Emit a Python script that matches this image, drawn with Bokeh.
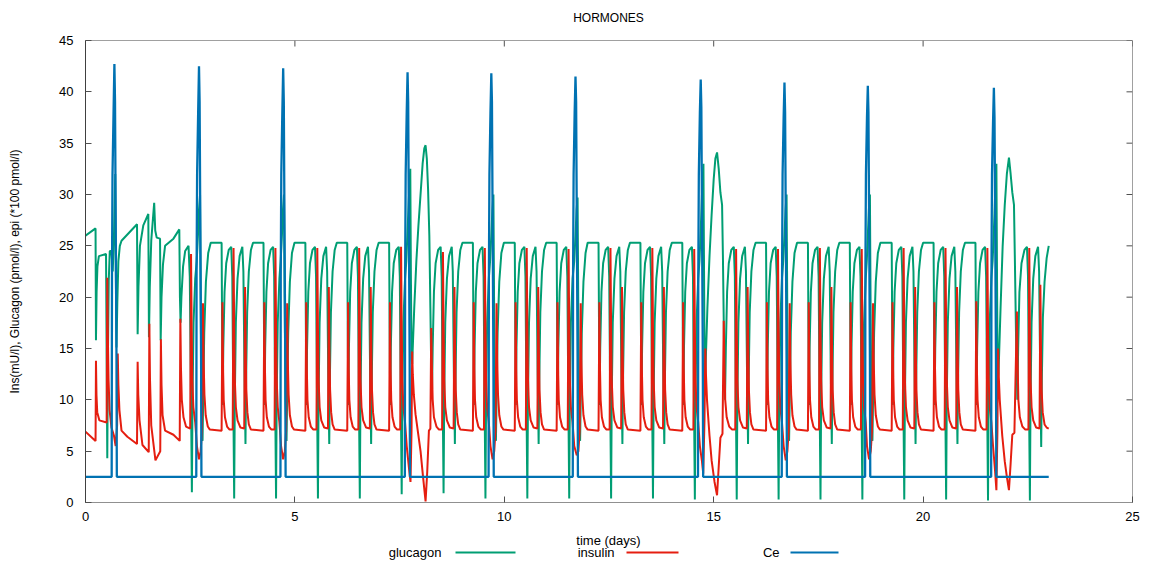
from bokeh.plotting import figure
from bokeh.models import Range1d, FixedTicker
from bokeh.layouts import column
from bokeh.core.properties import value
from bokeh.embed import file_html
from bokeh.resources import INLINE

FONT = "Liberation Sans"
title_text = "HORMONES"
x_label = "time (days)"
y_label = "Ins(mU/l), Glucagon (pmol/l), epi (*100 pmol/l)"
x_ticks = [0, 5, 10, 15, 20, 25]
y_ticks = [0, 5, 10, 15, 20, 25, 30, 35, 40, 45]
series_names = ["glucagon", "insulin", "Ce"]
series_colors = ["#009e73", "#e51e10", "#0072b2"]

# (time in days, value)
glucagon_pts = [
    (0.00, 26.0), (0.24, 26.7), (0.25, 15.8), (0.265, 20.5), (0.285, 23.0), (0.32, 24.0), (0.49, 24.2), (0.505, 14.0),
    (0.52, 4.3), (0.535, 14.0), (0.555, 21.6), (0.58, 24.5), (0.62, 24.5), (0.65, 22.5), (0.68, 26.0), (0.71, 32.0),
    (0.725, 22.0), (0.74, 15.1), (0.76, 19.5), (0.785, 23.5), (0.82, 25.0), (0.86, 25.5),
    (1.23, 27.1), (1.245, 16.4), (1.265, 21.0), (1.30, 25.0), (1.38, 27.0), (1.50, 28.1), (1.515, 16.1), (1.535, 21.0),
    (1.57, 25.5), (1.64, 29.2), (1.665, 26.5), (1.70, 25.8), (1.78, 25.7), (1.795, 15.8), (1.815, 20.0), (1.85, 23.2),
    (1.90, 25.0), (2.10, 25.7),
    (2.24, 26.6), (2.255, 20.0), (2.27, 17.5), (2.29, 20.0), (2.33, 23.0), (2.38, 24.5), (2.46, 25.0), (2.49, 22.0),
    (2.515, 12.0), (2.54, 1.0), (2.555, 10.0), (2.58, 17.5), (2.62, 21.8), (2.655, 23.5), (2.685, 26.0), (2.71, 28.5),
    (2.735, 30.0), (2.75, 20.0), (2.77, 10.0), (2.795, 6.0), (2.81, 10.0), (2.835, 16.5), (2.875, 21.5), (2.93, 24.3),
    (2.99, 25.3),
    (3.25, 25.3), (3.262, 17.0), (3.275, 9.5), (3.29, 15.0), (3.32, 20.5), (3.36, 23.3), (3.42, 24.6), (3.48, 24.9),
    (3.505, 22.0), (3.525, 12.0), (3.55, 0.4), (3.565, 10.0), (3.59, 17.5), (3.63, 21.8), (3.68, 24.0), (3.745, 24.9),
    (3.77, 22.5), (3.795, 13.0), (3.82, 5.7), (3.835, 12.0), (3.86, 18.5), (3.90, 22.5), (3.95, 24.6), (4.00, 25.3),
    (4.25, 25.3), (4.262, 17.0), (4.275, 9.5), (4.29, 15.0), (4.32, 20.5), (4.36, 23.3), (4.42, 24.6), (4.48, 24.9),
    (4.505, 22.0), (4.525, 12.0), (4.55, 0.4), (4.565, 10.0), (4.59, 17.5), (4.63, 21.8), (4.66, 23.5), (4.69, 26.0),
    (4.715, 28.5), (4.74, 30.0), (4.755, 20.0), (4.775, 10.0), (4.80, 6.0), (4.815, 10.0), (4.84, 16.5), (4.88, 21.5),
    (4.93, 24.3), (4.99, 25.3),
    (5.25, 25.3), (5.262, 17.0), (5.275, 9.5), (5.29, 15.0), (5.32, 20.5), (5.36, 23.3), (5.42, 24.6), (5.48, 24.9),
    (5.505, 22.0), (5.525, 12.0), (5.55, 0.4), (5.565, 10.0), (5.59, 17.5), (5.63, 21.8), (5.68, 24.0), (5.745, 24.9),
    (5.77, 22.5), (5.795, 13.0), (5.82, 5.7), (5.835, 12.0), (5.86, 18.5), (5.90, 22.5), (5.95, 24.6), (6.00, 25.3),
    (6.25, 25.3), (6.262, 17.0), (6.275, 9.5), (6.29, 15.0), (6.32, 20.5), (6.36, 23.3), (6.42, 24.6), (6.48, 24.9),
    (6.505, 22.0), (6.525, 12.0), (6.55, 0.4), (6.565, 10.0), (6.59, 17.5), (6.63, 21.8), (6.68, 24.0), (6.745, 24.9),
    (6.77, 22.5), (6.795, 13.0), (6.82, 5.7), (6.835, 12.0), (6.86, 18.5), (6.90, 22.5), (6.95, 24.6), (7.00, 25.3),
    (7.25, 25.3), (7.262, 17.0), (7.275, 9.5), (7.29, 15.0), (7.32, 20.5), (7.36, 23.3), (7.42, 24.6), (7.48, 24.9),
    (7.505, 22.0), (7.525, 12.0), (7.55, 0.8), (7.565, 10.0), (7.59, 17.5), (7.63, 21.8), (7.66, 23.5), (7.69, 26.5),
    (7.72, 29.5), (7.755, 32.5), (7.77, 22.0), (7.785, 14.0), (7.80, 13.5), (7.85, 19.0), (7.90, 23.5), (7.95, 27.0),
    (8.00, 30.0), (8.05, 33.0), (8.09, 34.5), (8.12, 34.8), (8.15, 33.5), (8.18, 30.5), (8.21, 26.0), (8.235, 19.0),
    (8.255, 13.0), (8.275, 11.0), (8.29, 15.0), (8.32, 20.5), (8.36, 23.3), (8.42, 24.6), (8.48, 24.9), (8.505, 22.0),
    (8.525, 12.0), (8.55, 0.9), (8.565, 10.0), (8.59, 17.5), (8.63, 21.8), (8.68, 24.0), (8.745, 24.9), (8.77, 22.5),
    (8.795, 13.0), (8.82, 5.7), (8.835, 12.0), (8.86, 18.5), (8.90, 22.5), (8.95, 24.6), (9.00, 25.3),
    (9.25, 25.3), (9.262, 17.0), (9.275, 9.5), (9.29, 15.0), (9.32, 20.5), (9.36, 23.3), (9.42, 24.6), (9.48, 24.9),
    (9.505, 22.0), (9.525, 12.0), (9.55, 0.4), (9.565, 10.0), (9.59, 17.5), (9.63, 21.8), (9.66, 23.5), (9.69, 26.0),
    (9.715, 28.5), (9.74, 30.0), (9.755, 20.0), (9.775, 10.0), (9.80, 6.0), (9.815, 10.0), (9.84, 16.5), (9.88, 21.5),
    (9.93, 24.3), (9.99, 25.3),
    (10.25, 25.3), (10.262, 17.0), (10.275, 9.5), (10.29, 15.0), (10.32, 20.5), (10.36, 23.3), (10.42, 24.6),
    (10.48, 24.9), (10.505, 22.0), (10.525, 12.0), (10.55, 0.4), (10.565, 10.0), (10.59, 17.5), (10.63, 21.8),
    (10.68, 24.0), (10.745, 24.9), (10.77, 22.5), (10.795, 13.0), (10.82, 5.7), (10.835, 12.0), (10.86, 18.5),
    (10.90, 22.5), (10.95, 24.6), (11.00, 25.3),
    (11.25, 25.3), (11.262, 17.0), (11.275, 9.5), (11.29, 15.0), (11.32, 20.5), (11.36, 23.3), (11.42, 24.6),
    (11.48, 24.9), (11.505, 22.0), (11.525, 12.0), (11.55, 0.4), (11.565, 10.0), (11.59, 17.5), (11.63, 21.8),
    (11.67, 23.5), (11.70, 26.0), (11.725, 28.5), (11.75, 29.7), (11.765, 20.0), (11.785, 10.0), (11.81, 6.0),
    (11.825, 10.0), (11.85, 16.5), (11.89, 21.5), (11.94, 24.3), (11.99, 25.3),
    (12.25, 25.3), (12.262, 17.0), (12.275, 9.5), (12.29, 15.0), (12.32, 20.5), (12.36, 23.3), (12.42, 24.6),
    (12.48, 24.9), (12.505, 22.0), (12.525, 12.0), (12.55, 0.4), (12.565, 10.0), (12.59, 17.5), (12.63, 21.8),
    (12.68, 24.0), (12.745, 24.9), (12.77, 22.5), (12.795, 13.0), (12.82, 5.7), (12.835, 12.0), (12.86, 18.5),
    (12.90, 22.5), (12.95, 24.6), (13.00, 25.3),
    (13.25, 25.3), (13.262, 17.0), (13.275, 9.5), (13.29, 15.0), (13.32, 20.5), (13.36, 23.3), (13.42, 24.6),
    (13.48, 24.9), (13.505, 22.0), (13.525, 12.0), (13.55, 0.4), (13.565, 10.0), (13.59, 17.5), (13.63, 21.8),
    (13.68, 24.0), (13.745, 24.9), (13.77, 22.5), (13.795, 13.0), (13.82, 5.7), (13.835, 12.0), (13.86, 18.5),
    (13.90, 22.5), (13.95, 24.6), (14.00, 25.3),
    (14.25, 25.3), (14.262, 17.0), (14.275, 9.5), (14.29, 15.0), (14.32, 20.5), (14.36, 23.3), (14.42, 24.6),
    (14.48, 24.9), (14.505, 22.0), (14.525, 12.0), (14.55, 0.3), (14.565, 10.0), (14.59, 17.5), (14.63, 21.8),
    (14.66, 23.5), (14.69, 26.5), (14.72, 30.0), (14.755, 33.0), (14.77, 22.0), (14.785, 12.0), (14.80, 12.5),
    (14.85, 19.0), (14.90, 24.0), (14.95, 28.0), (15.00, 31.5), (15.04, 33.5), (15.08, 34.1), (15.12, 32.5),
    (15.16, 30.2), (15.20, 29.0), (15.22, 24.0), (15.245, 16.0), (15.27, 10.0), (15.29, 15.0), (15.32, 20.5),
    (15.36, 23.3), (15.42, 24.6), (15.48, 24.9), (15.505, 22.0), (15.525, 12.0), (15.55, 0.3), (15.565, 10.0),
    (15.59, 17.5), (15.63, 21.8), (15.68, 24.0), (15.745, 24.9), (15.77, 22.5), (15.795, 13.0), (15.82, 5.7),
    (15.835, 12.0), (15.86, 18.5), (15.90, 22.5), (15.95, 24.6), (16.00, 25.3),
    (16.25, 25.3), (16.262, 17.0), (16.275, 9.5), (16.29, 15.0), (16.32, 20.5), (16.36, 23.3), (16.42, 24.6),
    (16.48, 24.9), (16.505, 22.0), (16.525, 12.0), (16.55, 0.3), (16.565, 10.0), (16.59, 17.5), (16.63, 21.8),
    (16.66, 23.5), (16.69, 26.0), (16.715, 28.5), (16.74, 30.0), (16.755, 20.0), (16.775, 10.0), (16.80, 6.0),
    (16.815, 10.0), (16.84, 16.5), (16.88, 21.5), (16.93, 24.3), (16.99, 25.3),
    (17.25, 25.3), (17.262, 17.0), (17.275, 9.5), (17.29, 15.0), (17.32, 20.5), (17.36, 23.3), (17.42, 24.6),
    (17.48, 24.9), (17.505, 22.0), (17.525, 12.0), (17.55, 0.3), (17.565, 10.0), (17.59, 17.5), (17.63, 21.8),
    (17.68, 24.0), (17.745, 24.9), (17.77, 22.5), (17.795, 13.0), (17.82, 5.7), (17.835, 12.0), (17.86, 18.5),
    (17.90, 22.5), (17.95, 24.6), (18.00, 25.3),
    (18.25, 25.3), (18.262, 17.0), (18.275, 9.5), (18.29, 15.0), (18.32, 20.5), (18.36, 23.3), (18.42, 24.6),
    (18.48, 24.9), (18.505, 22.0), (18.525, 12.0), (18.55, 0.3), (18.565, 10.0), (18.59, 17.5), (18.63, 21.8),
    (18.655, 23.5), (18.68, 26.0), (18.705, 28.5), (18.73, 30.0), (18.745, 20.0), (18.765, 10.0), (18.79, 6.0),
    (18.805, 10.0), (18.83, 16.5), (18.87, 21.5), (18.92, 24.3), (18.98, 25.3),
    (19.25, 25.3), (19.262, 17.0), (19.275, 9.5), (19.29, 15.0), (19.32, 20.5), (19.36, 23.3), (19.42, 24.6),
    (19.48, 24.9), (19.505, 22.0), (19.525, 12.0), (19.55, 0.3), (19.565, 10.0), (19.59, 17.5), (19.63, 21.8),
    (19.68, 24.0), (19.745, 24.9), (19.77, 22.5), (19.795, 13.0), (19.82, 5.7), (19.835, 12.0), (19.86, 18.5),
    (19.90, 22.5), (19.95, 24.6), (20.00, 25.3),
    (20.25, 25.3), (20.262, 17.0), (20.275, 9.5), (20.29, 15.0), (20.32, 20.5), (20.36, 23.3), (20.42, 24.6),
    (20.48, 24.9), (20.505, 22.0), (20.525, 12.0), (20.55, 0.3), (20.565, 10.0), (20.59, 17.5), (20.63, 21.8),
    (20.68, 24.0), (20.745, 24.9), (20.77, 22.5), (20.795, 13.0), (20.82, 5.7), (20.835, 12.0), (20.86, 18.5),
    (20.90, 22.5), (20.95, 24.6), (21.00, 25.3),
    (21.25, 25.3), (21.262, 17.0), (21.275, 9.5), (21.29, 15.0), (21.32, 20.5), (21.36, 23.3), (21.42, 24.6),
    (21.48, 24.9), (21.505, 22.0), (21.525, 12.0), (21.55, 0.2), (21.565, 10.0), (21.59, 17.5), (21.63, 21.8),
    (21.66, 23.5), (21.69, 26.5), (21.72, 30.0), (21.75, 33.0), (21.765, 22.0), (21.78, 12.0), (21.80, 12.5),
    (21.85, 19.0), (21.90, 25.0), (21.95, 29.0), (22.00, 32.0), (22.05, 33.6), (22.09, 32.0), (22.13, 30.2),
    (22.17, 29.0), (22.19, 24.0), (22.22, 16.0), (22.25, 10.0), (22.27, 15.0), (22.30, 20.5), (22.35, 23.3),
    (22.42, 24.6), (22.48, 24.9), (22.505, 22.0), (22.525, 12.0), (22.55, 0.2), (22.565, 10.0), (22.59, 17.5),
    (22.63, 21.8), (22.68, 24.0), (22.745, 24.9), (22.77, 22.5), (22.795, 13.0), (22.82, 5.4), (22.835, 12.0),
    (22.86, 18.0), (22.90, 21.5), (22.95, 23.8), (23.00, 25.0),
]

insulin_pts = [
    (0.00, 6.9), (0.24, 6.0), (0.25, 13.8), (0.262, 10.5), (0.28, 8.8), (0.33, 8.0), (0.505, 7.8), (0.52, 21.9),
    (0.535, 16.0), (0.55, 12.0), (0.575, 9.0), (0.62, 7.3), (0.68, 6.5), (0.72, 5.5), (0.755, 7.5), (0.77, 14.5),
    (0.785, 11.5), (0.81, 9.0), (0.86, 7.0), (1.00, 6.4),
    (1.23, 5.7), (1.245, 13.7), (1.26, 10.5), (1.29, 8.0), (1.36, 5.6), (1.51, 4.9), (1.525, 17.4), (1.54, 12.0),
    (1.57, 7.5), (1.67, 4.1), (1.785, 5.0), (1.80, 15.9), (1.815, 11.5), (1.84, 8.5), (1.90, 7.0), (2.10, 6.6),
    (2.25, 6.0), (2.265, 17.9), (2.28, 13.0), (2.30, 10.0), (2.34, 8.3), (2.40, 7.4), (2.50, 7.2), (2.52, 24.2),
    (2.535, 17.0), (2.55, 12.0), (2.575, 9.3), (2.62, 7.8), (2.66, 5.5), (2.71, 4.2), (2.75, 5.0), (2.78, 7.0),
    (2.805, 19.4), (2.82, 14.0), (2.84, 10.5), (2.87, 8.5), (2.92, 7.4), (2.97, 7.1),
    (3.25, 7.0), (3.27, 19.5), (3.285, 13.0), (3.30, 10.0), (3.33, 8.3), (3.38, 7.4), (3.44, 7.1), (3.515, 7.1),
    (3.535, 24.8), (3.55, 17.0), (3.565, 12.0), (3.59, 9.3), (3.63, 8.0), (3.70, 7.3), (3.79, 7.2), (3.81, 21.0),
    (3.825, 15.0), (3.84, 11.0), (3.865, 8.8), (3.90, 7.6), (3.95, 7.1),
    (4.25, 7.0), (4.27, 19.5), (4.285, 13.0), (4.30, 10.0), (4.33, 8.3), (4.38, 7.4), (4.44, 7.1), (4.515, 7.1),
    (4.535, 24.8), (4.55, 17.0), (4.565, 12.0), (4.59, 9.3), (4.63, 7.8), (4.67, 5.5), (4.72, 4.2), (4.76, 5.0),
    (4.79, 7.0), (4.815, 19.4), (4.83, 14.0), (4.85, 10.5), (4.88, 8.5), (4.93, 7.4), (4.98, 7.1),
    (5.25, 7.0), (5.27, 19.5), (5.285, 13.0), (5.30, 10.0), (5.33, 8.3), (5.38, 7.4), (5.44, 7.1), (5.515, 7.1),
    (5.535, 24.8), (5.55, 17.0), (5.565, 12.0), (5.59, 9.3), (5.63, 8.0), (5.70, 7.3), (5.79, 7.2), (5.81, 21.0),
    (5.825, 15.0), (5.84, 11.0), (5.865, 8.8), (5.90, 7.6), (5.95, 7.1),
    (6.25, 7.0), (6.27, 19.5), (6.285, 13.0), (6.30, 10.0), (6.33, 8.3), (6.38, 7.4), (6.44, 7.1), (6.515, 7.1),
    (6.535, 24.8), (6.55, 17.0), (6.565, 12.0), (6.59, 9.3), (6.63, 8.0), (6.70, 7.3), (6.79, 7.2), (6.81, 21.0),
    (6.825, 15.0), (6.84, 11.0), (6.865, 8.8), (6.90, 7.6), (6.95, 7.1),
    (7.25, 7.0), (7.27, 19.5), (7.285, 13.0), (7.30, 10.0), (7.33, 8.3), (7.38, 7.4), (7.44, 7.1), (7.515, 7.1),
    (7.535, 24.9), (7.55, 17.0), (7.565, 12.0), (7.59, 9.3), (7.63, 7.8), (7.67, 5.5), (7.72, 3.5), (7.76, 2.0),
    (7.785, 7.0), (7.80, 14.7), (7.815, 12.5), (7.84, 10.5), (7.88, 8.6), (7.94, 6.8), (8.00, 5.0), (8.06, 2.5),
    (8.12, 0.1), (8.16, 3.0), (8.20, 7.0), (8.235, 7.2), (8.255, 17.0), (8.27, 13.5), (8.29, 10.0), (8.32, 8.3),
    (8.38, 7.4), (8.44, 7.1), (8.515, 7.1), (8.535, 24.4), (8.55, 17.0), (8.565, 12.0), (8.59, 9.3), (8.63, 8.0),
    (8.70, 7.3), (8.79, 7.2), (8.81, 21.0), (8.825, 15.0), (8.84, 11.0), (8.865, 8.8), (8.90, 7.6), (8.95, 7.1),
    (9.25, 7.0), (9.27, 19.5), (9.285, 13.0), (9.30, 10.0), (9.33, 8.3), (9.38, 7.4), (9.44, 7.1), (9.515, 7.1),
    (9.535, 24.8), (9.55, 17.0), (9.565, 12.0), (9.59, 9.3), (9.63, 7.8), (9.67, 5.5), (9.72, 4.2), (9.76, 5.0),
    (9.79, 7.0), (9.815, 19.4), (9.83, 14.0), (9.85, 10.5), (9.88, 8.5), (9.93, 7.4), (9.98, 7.1),
    (10.25, 7.0), (10.27, 19.5), (10.285, 13.0), (10.30, 10.0), (10.33, 8.3), (10.38, 7.4), (10.44, 7.1),
    (10.515, 7.1), (10.535, 24.8), (10.55, 17.0), (10.565, 12.0), (10.59, 9.3), (10.63, 8.0), (10.70, 7.3),
    (10.79, 7.2), (10.81, 21.0), (10.825, 15.0), (10.84, 11.0), (10.865, 8.8), (10.90, 7.6), (10.95, 7.1),
    (11.25, 7.0), (11.27, 19.5), (11.285, 13.0), (11.30, 10.0), (11.33, 8.3), (11.38, 7.4), (11.44, 7.1),
    (11.515, 7.1), (11.535, 24.7), (11.55, 17.0), (11.565, 12.0), (11.59, 9.3), (11.63, 7.8), (11.67, 5.5),
    (11.73, 4.6), (11.77, 5.0), (11.80, 7.0), (11.825, 19.4), (11.84, 14.0), (11.86, 10.5), (11.89, 8.5),
    (11.94, 7.4), (11.99, 7.1),
    (12.25, 7.0), (12.27, 19.5), (12.285, 13.0), (12.30, 10.0), (12.33, 8.3), (12.38, 7.4), (12.44, 7.1),
    (12.515, 7.1), (12.535, 24.8), (12.55, 17.0), (12.565, 12.0), (12.59, 9.3), (12.63, 8.0), (12.70, 7.3),
    (12.79, 7.2), (12.81, 21.0), (12.825, 15.0), (12.84, 11.0), (12.865, 8.8), (12.90, 7.6), (12.95, 7.1),
    (13.25, 7.0), (13.27, 19.5), (13.285, 13.0), (13.30, 10.0), (13.33, 8.3), (13.38, 7.4), (13.44, 7.1),
    (13.515, 7.1), (13.535, 24.8), (13.55, 17.0), (13.565, 12.0), (13.59, 9.3), (13.63, 8.0), (13.70, 7.3),
    (13.79, 7.2), (13.81, 21.0), (13.825, 15.0), (13.84, 11.0), (13.865, 8.8), (13.90, 7.6), (13.95, 7.1),
    (14.25, 7.0), (14.27, 19.5), (14.285, 13.0), (14.30, 10.0), (14.33, 8.3), (14.38, 7.4), (14.44, 7.1),
    (14.515, 7.1), (14.535, 24.7), (14.55, 17.0), (14.565, 12.0), (14.59, 9.3), (14.63, 7.8), (14.67, 5.5),
    (14.72, 4.0), (14.75, 2.8), (14.78, 8.0), (14.80, 15.0), (14.815, 12.5), (14.84, 10.0), (14.90, 6.5),
    (14.95, 4.1), (15.02, 2.0), (15.08, 0.7), (15.12, 3.5), (15.16, 6.3), (15.21, 6.7), (15.24, 17.7),
    (15.255, 13.5), (15.275, 10.0), (15.31, 8.3), (15.37, 7.4), (15.44, 7.1), (15.515, 7.1), (15.535, 24.7),
    (15.55, 17.0), (15.565, 12.0), (15.59, 9.3), (15.63, 8.0), (15.70, 7.3), (15.79, 7.2), (15.81, 21.0),
    (15.825, 15.0), (15.84, 11.0), (15.865, 8.8), (15.90, 7.6), (15.95, 7.1),
    (16.25, 7.0), (16.27, 19.5), (16.285, 13.0), (16.30, 10.0), (16.33, 8.3), (16.38, 7.4), (16.44, 7.1),
    (16.515, 7.1), (16.535, 24.7), (16.55, 17.0), (16.565, 12.0), (16.59, 9.3), (16.63, 7.8), (16.67, 5.5),
    (16.72, 4.1), (16.76, 5.0), (16.79, 7.0), (16.815, 19.4), (16.83, 14.0), (16.85, 10.5), (16.88, 8.5),
    (16.93, 7.4), (16.98, 7.1),
    (17.25, 7.0), (17.27, 19.5), (17.285, 13.0), (17.30, 10.0), (17.33, 8.3), (17.38, 7.4), (17.44, 7.1),
    (17.515, 7.1), (17.535, 24.8), (17.55, 17.0), (17.565, 12.0), (17.59, 9.3), (17.63, 8.0), (17.70, 7.3),
    (17.79, 7.2), (17.81, 21.0), (17.825, 15.0), (17.84, 11.0), (17.865, 8.8), (17.90, 7.6), (17.95, 7.1),
    (18.25, 7.0), (18.27, 19.5), (18.285, 13.0), (18.30, 10.0), (18.33, 8.3), (18.38, 7.4), (18.44, 7.1),
    (18.515, 7.1), (18.535, 24.7), (18.55, 17.0), (18.565, 12.0), (18.59, 9.3), (18.63, 7.8), (18.66, 5.5),
    (18.71, 4.2), (18.75, 5.0), (18.78, 7.0), (18.805, 19.4), (18.82, 14.0), (18.84, 10.5), (18.87, 8.5),
    (18.92, 7.4), (18.97, 7.1),
    (19.25, 7.0), (19.27, 19.5), (19.285, 13.0), (19.30, 10.0), (19.33, 8.3), (19.38, 7.4), (19.44, 7.1),
    (19.515, 7.1), (19.535, 24.8), (19.55, 17.0), (19.565, 12.0), (19.59, 9.3), (19.63, 8.0), (19.70, 7.3),
    (19.79, 7.2), (19.81, 21.0), (19.825, 15.0), (19.84, 11.0), (19.865, 8.8), (19.90, 7.6), (19.95, 7.1),
    (20.25, 7.0), (20.27, 19.5), (20.285, 13.0), (20.30, 10.0), (20.33, 8.3), (20.38, 7.4), (20.44, 7.1),
    (20.515, 7.1), (20.535, 24.8), (20.55, 17.0), (20.565, 12.0), (20.59, 9.3), (20.63, 8.0), (20.70, 7.3),
    (20.79, 7.2), (20.81, 21.0), (20.825, 15.0), (20.84, 11.0), (20.865, 8.8), (20.90, 7.6), (20.95, 7.1),
    (21.25, 7.0), (21.27, 19.6), (21.285, 13.0), (21.30, 10.0), (21.33, 8.3), (21.38, 7.4), (21.44, 7.1),
    (21.515, 7.1), (21.535, 24.8), (21.55, 17.0), (21.565, 12.0), (21.59, 9.3), (21.63, 7.8), (21.67, 5.5),
    (21.72, 3.0), (21.75, 1.2), (21.775, 7.0), (21.79, 15.0), (21.805, 12.5), (21.83, 10.0), (21.89, 6.5),
    (21.95, 4.0), (22.00, 2.5), (22.05, 1.2), (22.09, 3.8), (22.13, 6.6), (22.18, 6.8), (22.24, 18.6),
    (22.255, 14.0), (22.275, 10.0), (22.31, 8.3), (22.37, 7.4), (22.44, 7.1), (22.515, 7.1), (22.535, 24.8),
    (22.55, 17.0), (22.565, 12.0), (22.59, 9.3), (22.63, 8.0), (22.70, 7.3), (22.78, 7.2), (22.80, 21.2),
    (22.815, 15.0), (22.83, 11.0), (22.855, 8.8), (22.90, 7.6), (22.95, 7.3), (23.00, 7.2),
]

ce_pts = [
    (0.00, 2.5),
    (0.625, 2.5), (0.632, 22.0), (0.645, 32.0), (0.67, 38.0), (0.69, 42.7), (0.705, 39.0), (0.72, 28.0), (0.74, 14.0), (0.748, 2.5),
    (2.645, 2.5), (2.652, 22.0), (2.665, 32.0), (2.69, 38.0), (2.71, 42.5), (2.725, 39.0), (2.74, 28.0), (2.76, 14.0), (2.768, 2.5),
    (4.655, 2.5), (4.662, 22.0), (4.675, 32.0), (4.70, 38.0), (4.72, 42.3), (4.735, 39.0), (4.75, 28.0), (4.77, 14.0), (4.778, 2.5),
    (7.625, 2.5), (7.632, 22.0), (7.645, 32.0), (7.67, 38.0), (7.69, 41.9), (7.705, 39.0), (7.72, 28.0), (7.74, 14.0), (7.748, 2.5),
    (9.625, 2.5), (9.632, 22.0), (9.645, 32.0), (9.67, 38.0), (9.69, 41.8), (9.705, 39.0), (9.72, 28.0), (9.74, 14.0), (9.748, 2.5),
    (11.635, 2.5), (11.642, 22.0), (11.655, 32.0), (11.68, 38.0), (11.70, 41.5), (11.715, 39.0), (11.73, 28.0), (11.75, 14.0), (11.758, 2.5),
    (14.625, 2.5), (14.632, 22.0), (14.645, 32.0), (14.67, 38.0), (14.69, 41.2), (14.705, 38.5), (14.72, 28.0), (14.74, 14.0), (14.748, 2.5),
    (16.625, 2.5), (16.632, 22.0), (16.645, 32.0), (16.67, 37.5), (16.69, 40.9), (16.705, 38.0), (16.72, 28.0), (16.74, 14.0), (16.748, 2.5),
    (18.615, 2.5), (18.622, 22.0), (18.635, 32.0), (18.66, 37.5), (18.68, 40.6), (18.695, 38.0), (18.71, 28.0), (18.73, 14.0), (18.738, 2.5),
    (21.625, 2.5), (21.632, 22.0), (21.645, 32.0), (21.67, 37.0), (21.69, 40.4), (21.705, 37.5), (21.72, 28.0), (21.74, 14.0), (21.748, 2.5),
    (23.00, 2.5),
]

all_series = [glucagon_pts, insulin_pts, ce_pts]
line_widths = [2, 2, 2.3]

W = 1149
TOP_H, BOTTOM_H = 30, 35
MAIN_H = 562 - TOP_H - BOTTOM_H
FRAME_L, FRAME_R = 85, 1132


def strip(height):
    # the column aligns this strip's frame with the main plot frame,
    # so its x range is expressed in page pixels between the frame edges
    f = figure(width=W, height=height, x_range=Range1d(FRAME_L, FRAME_R), y_range=Range1d(0, height),
               output_backend="svg", toolbar_location=None, title=None,
               min_border_left=FRAME_L, min_border_right=W - FRAME_R, min_border_top=0, min_border_bottom=0)
    f.axis.visible = False
    f.xgrid.visible = False
    f.ygrid.visible = False
    f.outline_line_color = None
    f.background_fill_color = "white"
    f.border_fill_color = "white"
    return f


# title strip
top = strip(TOP_H)
top.text(x=[608], y=[TOP_H - 17], text=[title_text], text_align="center", text_baseline="middle",
         text_font=value(FONT), text_font_size="12px", text_color="black")

# main plot
p = figure(width=W, height=MAIN_H, x_range=Range1d(0, 25), y_range=Range1d(0, 45),
           output_backend="svg", toolbar_location=None, title=None,
           min_border_left=FRAME_L, min_border_right=W - FRAME_R, min_border_top=10, min_border_bottom=25)
p.background_fill_color = "white"
p.border_fill_color = "white"
p.outline_line_color = "#a0a0a0"
p.outline_line_width = 1
p.xgrid.visible = False
p.ygrid.visible = False

for ax, ticks in ((p.xaxis[0], x_ticks), (p.yaxis[0], y_ticks)):
    ax.ticker = FixedTicker(ticks=ticks)
    ax.minor_tick_line_color = None
    ax.major_tick_in = 6
    ax.major_tick_out = 0
    ax.major_tick_line_color = "#505050"
    ax.major_label_text_font = FONT
    ax.major_label_text_font_size = "13px"
    ax.major_label_text_color = "black"
    ax.axis_label_text_font = FONT
    ax.axis_label_text_font_style = "normal"
    ax.axis_label_text_color = "black"

p.xaxis.major_label_standoff = 9
p.xaxis.axis_line_color = "#909090"

p.yaxis.axis_label = y_label
p.yaxis.axis_label_text_font_size = "12px"
p.yaxis.major_label_standoff = 12
p.yaxis.axis_label_standoff = 34
p.yaxis.axis_line_color = "#404040"

# mirrored inner ticks on top and right borders
top_len = 6 * 45 / 462.0
right_len = 6 * 25 / 1047.0
p.segment(x0=x_ticks, y0=[45] * len(x_ticks), x1=x_ticks, y1=[45 - top_len] * len(x_ticks),
          line_color="#505050", line_width=1)
p.segment(x0=[25] * len(y_ticks), y0=y_ticks, x1=[25 - right_len] * len(y_ticks), y1=y_ticks,
          line_color="#505050", line_width=1)

for pts, col, lw in zip(all_series, series_colors, line_widths):
    xs = [a for a, b in pts]
    ys = [b for a, b in pts]
    p.line(xs, ys, line_color=col, line_width=lw)

# bottom strip: x axis title and legend (text then line sample)
bot = strip(BOTTOM_H)
bot.text(x=[608], y=[BOTTOM_H - 13], text=[x_label], text_align="center", text_baseline="middle",
         text_font=value(FONT), text_font_size="13px", text_color="black")
leg_y = BOTTOM_H - 25
bot.text(x=[441, 614, 779], y=[leg_y] * 3, text=series_names, text_align="right", text_baseline="middle",
         text_font=value(FONT), text_font_size="13px", text_color="black")
bot.segment(x0=[455, 626, 790], y0=[leg_y] * 3, x1=[515, 678, 838], y1=[leg_y] * 3,
            line_color=series_colors, line_width=2)

layout = column(top, p, bot, spacing=0)
open("out.html", "w").write(file_html(layout, INLINE))
